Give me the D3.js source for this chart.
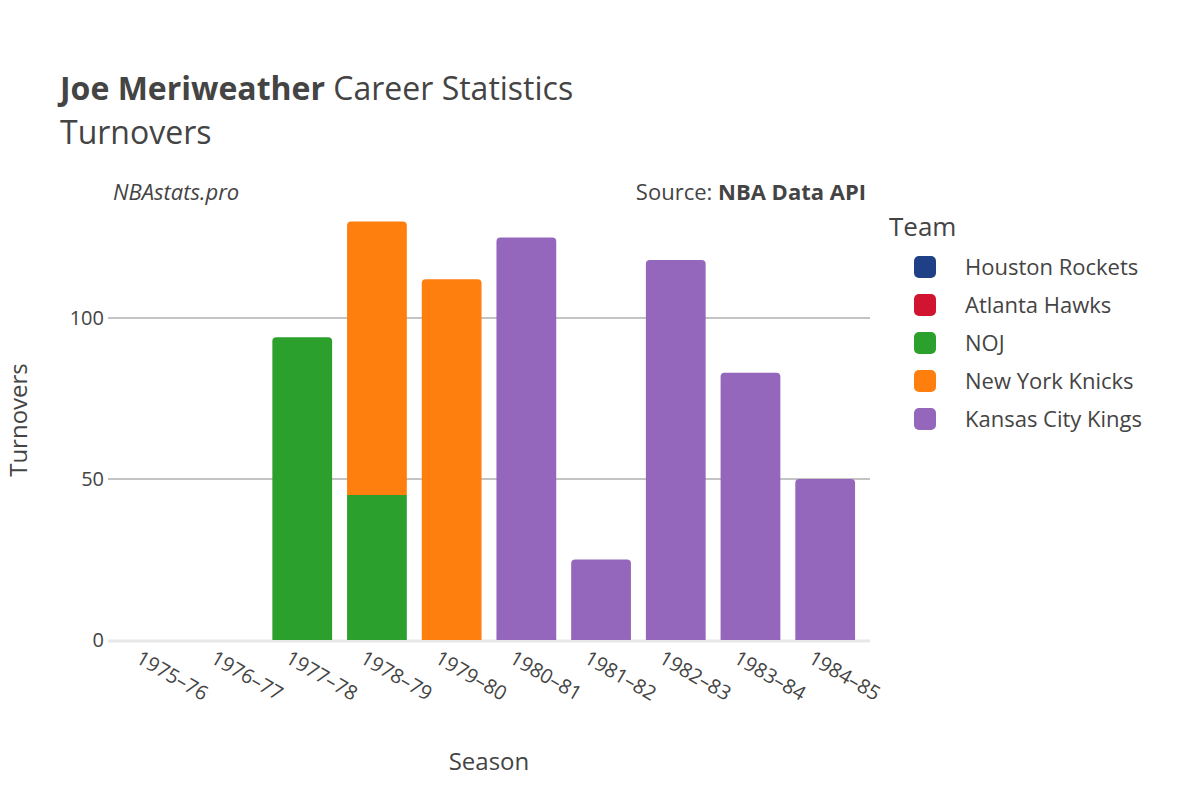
<!DOCTYPE html>
<html><head><meta charset="utf-8">
<script src="https://cdn.jsdelivr.net/npm/d3@7"></script>
<style>body{margin:0;background:#fff}text{font-family:"Open Sans",sans-serif;fill:#444}</style>
</head><body><svg id="c" width="1200" height="800"></svg>
<script>
const seasons=["1975–76","1976–77","1977–78","1978–79","1979–80","1980–81","1981–82","1982–83","1983–84","1984–85"];
const teams=["Houston Rockets","Atlanta Hawks","NOJ","New York Knicks","Kansas City Kings"];
const colors=["#1f3f86","#d11531","#2ca02c","#ff7f0e","#9467bd"];
const houston=[0,0,0,0,0,0,0,0,0,0];
const atlanta=[0,0,0,0,0,0,0,0,0,0];
const noj=[0,0,94,45,0,0,0,0,0,0];
const knicks=[0,0,0,85,112,0,0,0,0,0];
const kings=[0,0,0,0,0,125,25,118,83,50];
const series=[houston,atlanta,noj,knicks,kings];
const yTicks=[0,50,100];

const svg=d3.select("#c");
const L=108,R=870,T=200,B=640;
const x=d3.scaleBand().domain(seasons).range([L,R]).padding(0.2);
const y=d3.scaleLinear().domain([0,(B-T)/3.22]).range([B,T]);
yTicks.forEach(t=>{
  if(t>0) svg.append("line").attr("x1",L).attr("x2",R).attr("y1",y(t)).attr("y2",y(t)).attr("stroke","#888").attr("stroke-width",1);
  svg.append("text").attr("x",L-4).attr("y",y(t)+7).attr("text-anchor","end").attr("font-size",20).text(t);
});
svg.append("line").attr("x1",L).attr("x2",R).attr("y1",B+1).attr("y2",B+1).attr("stroke","#e8e8e8").attr("stroke-width",3);
const base=seasons.map(()=>0);
series.forEach((s,i)=>{
  seasons.forEach((se,j)=>{
    if(!s[j])return;
    const y0=base[j],y1=y0+s[j];base[j]=y1;
    const top=y1===d3.sum(series,z=>z[j]);
    const h=y(y0)-y(y1), w=x.bandwidth(), r=top?4:0;
    const X=x(se),Y=y(y1);
    svg.append("path").attr("fill",colors[i]).attr("d",
      `M${X},${Y+h}V${Y+r}Q${X},${Y} ${X+r},${Y}H${X+w-r}Q${X+w},${Y} ${X+w},${Y+r}V${Y+h}Z`);
  });
});
seasons.forEach(se=>{
  const cx=x(se)+x.bandwidth()/2;
  svg.append("text").attr("transform",`translate(${cx-18},${662}) rotate(30)`).attr("font-size",20).text(se);
});
svg.append("text").attr("x",489).attr("y",770).attr("text-anchor","middle").attr("font-size",24).text("Season");
svg.append("text").attr("transform","translate(27,420) rotate(-90)").attr("text-anchor","middle").attr("font-size",24).text("Turnovers");
const t=svg.append("text").attr("x",60).attr("y",100).attr("font-size",32);
t.append("tspan").attr("font-weight","bold").text("Joe Meriweather");
t.append("tspan").text(" Career Statistics");
svg.append("text").attr("x",60).attr("y",144).attr("font-size",32).text("Turnovers");
svg.append("text").attr("x",113).attr("y",200).attr("font-size",22).attr("font-style","italic").text("NBAstats.pro");
const s=svg.append("text").attr("x",866).attr("y",200).attr("font-size",22).attr("text-anchor","end");
s.append("tspan").text("Source: ");s.append("tspan").attr("font-weight","bold").text("NBA Data API");
svg.append("text").attr("x",889).attr("y",236).attr("font-size",26).text("Team");
teams.forEach((tm,i)=>{
  const yy=267+i*38;
  svg.append("rect").attr("x",914).attr("y",yy-11).attr("width",22).attr("height",22).attr("rx",5).attr("fill",colors[i]);
  svg.append("text").attr("x",965).attr("y",yy+8).attr("font-size",22).text(tm);
});
</script></body></html>
